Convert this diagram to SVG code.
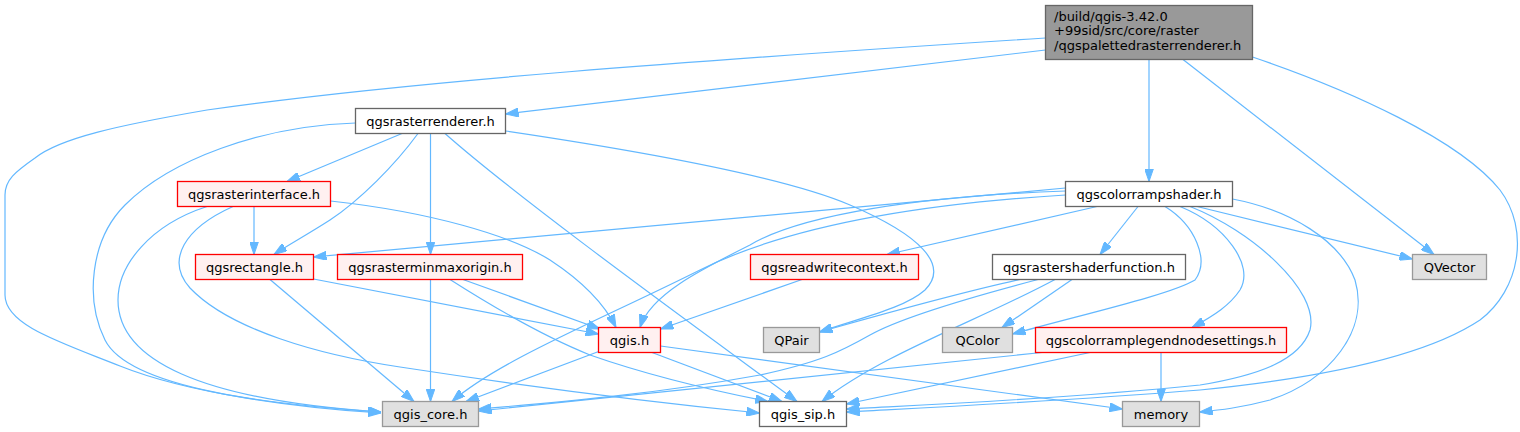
<svg xmlns="http://www.w3.org/2000/svg" width="1520" height="432" viewBox="0 0 1520 432">
<style>
.n text{font-family:"DejaVu Sans","Noto Sans",sans-serif;font-size:13px;fill:#000;text-anchor:middle}
.n rect{stroke-width:1.3}
.root rect{fill:#999999;stroke:#666666}
.root text{text-anchor:start}
.w rect{fill:#ffffff;stroke:#666666}
.r rect{fill:#fff0f0;stroke:#ff0000}
.g rect{fill:#e0e0e0;stroke:#999999}
#edges path{fill:none;stroke:#63b8ff;stroke-width:1.2;marker-end:url(#arr)}
</style>
<defs>
<marker id="arr" markerUnits="userSpaceOnUse" markerWidth="13" markerHeight="9" refX="13" refY="4.5" orient="auto" viewBox="0 0 13 9"><path d="M0,0 L13,4.5 L0,9 z" fill="#63b8ff" stroke="#63b8ff"/></marker>
</defs>
<rect width="1520" height="432" fill="#ffffff"/>
<g id="edges">
<path d="M1045.5,38 C700,60 400,82 207,110 C120,125 60,138 35,158 C15,172 5,180 5,195 L5,295 C5,325 60,342 120,366 C190,394 300,408 381,413"/>
<path d="M1045.5,50 L505.5,114"/>
<path d="M1149,59.5 L1149,181.5"/>
<path d="M1183,59.5 L1434,254.5"/>
<path d="M1252.5,57 C1350,90 1460,140 1500,190 C1530,230 1520,290 1480,320 C1420,360 1300,380 1200,390 C1050,402 920,408 846.5,412"/>
<path d="M355.5,123 C260,126 170,160 125,205 C90,240 85,300 105,340 C130,390 280,405 381,412"/>
<path d="M402,133.5 L287,181.5"/>
<path d="M418,133.5 C395,165 360,200 330,220 C305,236 288,245 274,254.5"/>
<path d="M430.5,133.5 L430.5,254.5"/>
<path d="M445,133.5 C520,200 700,330 797,401.5"/>
<path d="M505.5,131 C620,148 780,175 850,205 C920,235 950,265 925,290 C905,308 860,318 819.5,332"/>
<path d="M254,206.5 L254,254.5"/>
<path d="M330.5,201 C430,212 510,235 550,260 C585,283 605,305 616,327.5"/>
<path d="M207,206.5 C150,225 118,265 118,300 C118,360 200,400 381,412"/>
<path d="M233,206.5 C185,228 165,260 190,288 C230,330 320,355 400,367 C550,390 680,405 759.5,413"/>
<path d="M313.5,279 L598.5,334"/>
<path d="M270,279.5 L414,401.5"/>
<path d="M430.5,279.5 L430.5,401.5"/>
<path d="M463,279.5 L600,329"/>
<path d="M450,279.5 C490,305 540,335 590,355 C650,376 720,392 768,401.5"/>
<path d="M1065.5,188 L313.5,257"/>
<path d="M1065.5,191 C920,196 800,215 750,245 C700,270 650,295 640,327.5"/>
<path d="M1065.5,195 C900,205 780,230 700,270 C600,320 500,360 452,401.5"/>
<path d="M1097,206.5 L887,254.5"/>
<path d="M1138,206.5 L1100,254.5"/>
<path d="M1165,206.5 C1195,225 1210,260 1195,280 C1170,295 1080,315 1012.5,334"/>
<path d="M1180,206.5 C1225,225 1255,265 1240,290 C1230,305 1215,315 1192,327.5"/>
<path d="M1190,206.5 C1250,230 1320,290 1310,330 C1300,360 1260,375 1200,385 C1050,400 920,405 846.5,409"/>
<path d="M1197,206.5 L1412.5,259"/>
<path d="M1232.5,199 C1290,210 1340,240 1355,280 C1370,330 1330,380 1270,400 C1240,408 1220,410 1199.5,412"/>
<path d="M802,279.5 L660.5,329"/>
<path d="M1020,279.5 C950,295 880,315 819.5,332"/>
<path d="M1038,279.5 C960,300 900,318 870,335 C840,352 820,362 760,375 C650,395 550,403 478.5,409"/>
<path d="M1055,279.5 C980,320 880,355 822,401.5"/>
<path d="M1072,279.5 L1002,327.5"/>
<path d="M600,351 L466,401.5"/>
<path d="M652,352.5 L782,401.5"/>
<path d="M660.5,346 L1122.5,409"/>
<path d="M1042,352.5 L478.5,411"/>
<path d="M1090,352.5 L846.5,404"/>
<path d="M1161,352.5 L1161,401.5"/>
</g>
<g id="root" class="n root"><rect x="1045.5" y="5.5" width="207" height="54"/><text x="1054" y="20.5">/build/qgis-3.42.0</text><text x="1054" y="35">+99sid/src/core/raster</text><text x="1054" y="49.5">/qgspalettedrasterrenderer.h</text></g>
<g id="qgsrasterrenderer" class="n w"><rect x="355.5" y="108.5" width="150" height="25"/><text x="430.5" y="125.5">qgsrasterrenderer.h</text></g>
<g id="qgsrasterinterface" class="n r"><rect x="177.5" y="181.5" width="153" height="25"/><text x="254" y="198.5">qgsrasterinterface.h</text></g>
<g id="qgsrectangle" class="n r"><rect x="195.5" y="254.5" width="118" height="25"/><text x="254.5" y="271.5">qgsrectangle.h</text></g>
<g id="qgsrasterminmaxorigin" class="n r"><rect x="337.5" y="254.5" width="185" height="25"/><text x="430" y="271.5">qgsrasterminmaxorigin.h</text></g>
<g id="qgscolorrampshader" class="n w"><rect x="1065.5" y="181.5" width="167" height="25"/><text x="1149" y="198.5">qgscolorrampshader.h</text></g>
<g id="qgsreadwritecontext" class="n r"><rect x="750.5" y="254.5" width="168" height="25"/><text x="834.5" y="271.5">qgsreadwritecontext.h</text></g>
<g id="qgsrastershaderfunction" class="n w"><rect x="992.5" y="254.5" width="193" height="25"/><text x="1089" y="271.5">qgsrastershaderfunction.h</text></g>
<g id="QPair" class="n g"><rect x="763.5" y="327.5" width="56" height="25"/><text x="791.5" y="344.5">QPair</text></g>
<g id="QColor" class="n g"><rect x="942.5" y="327.5" width="70" height="25"/><text x="977.5" y="344.5">QColor</text></g>
<g id="qgscolorramplegendnodesettings" class="n r"><rect x="1035.5" y="327.5" width="251" height="25"/><text x="1161" y="344.5">qgscolorramplegendnodesettings.h</text></g>
<g id="qgis" class="n r"><rect x="598.5" y="327.5" width="62" height="25"/><text x="629.5" y="344.5">qgis.h</text></g>
<g id="qgis_core" class="n g"><rect x="382.5" y="401.5" width="96" height="25"/><text x="430.5" y="418.5">qgis_core.h</text></g>
<g id="qgis_sip" class="n w"><rect x="759.5" y="401.5" width="87" height="25"/><text x="803" y="418.5">qgis_sip.h</text></g>
<g id="memory" class="n g"><rect x="1122.5" y="401.5" width="77" height="25"/><text x="1161" y="418.5">memory</text></g>
<g id="QVector" class="n g"><rect x="1412.5" y="254.5" width="74" height="25"/><text x="1449.5" y="271.5">QVector</text></g>
</svg>
